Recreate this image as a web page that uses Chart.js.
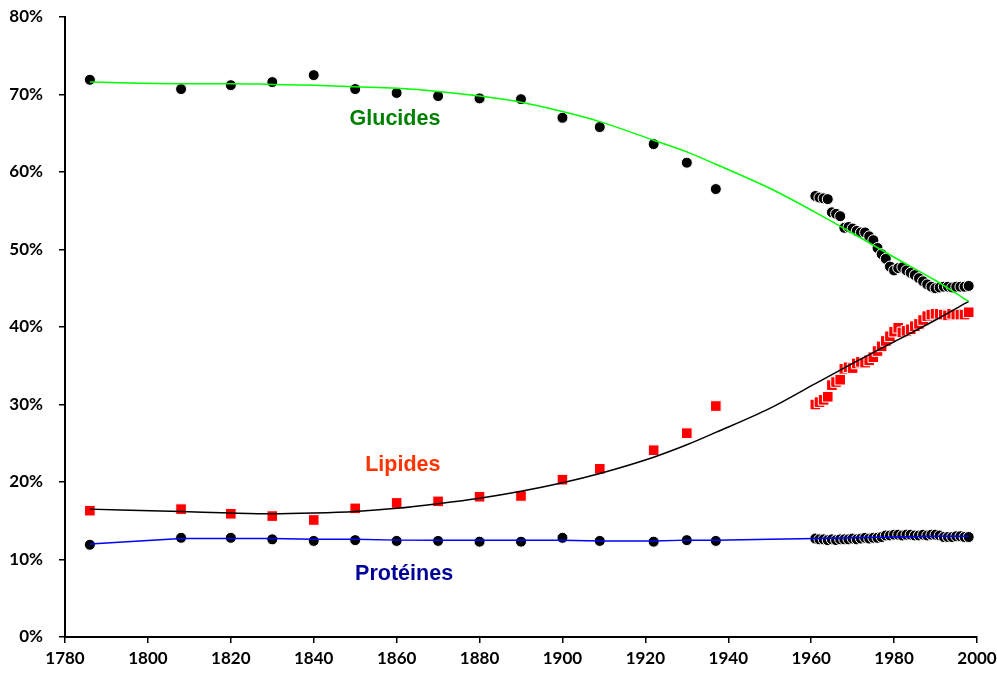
<!DOCTYPE html>
<html>
<head>
<meta charset="utf-8">
<script src="https://cdn.jsdelivr.net/npm/chart.js@4.4.1/dist/chart.umd.min.js"></script>
<style>
html,body{margin:0;padding:0;background:#fff;}
#wrap{width:997px;height:677px;}
</style>
</head>
<body>
<div id="wrap"><canvas id="c" width="997" height="677"></canvas></div>
<script>
// ---- Data ----
const years = [1786,1808,1820,1830,1840,1850,1860,1870,1880,1890,1900,1909,1922,1930,1937,
  1961,1962,1963,1964,1965,1966,1967,1968,1969,1970,1971,1972,1973,1974,1975,1976,1977,1978,1979,
  1980,1981,1982,1983,1984,1985,1986,1987,1988,1989,1990,1991,1992,1993,1994,1995,1996,1997,1998];

const glucides = [71.9,70.7,71.2,71.6,72.5,70.7,70.2,69.8,69.5,69.4,67.0,65.8,63.6,61.2,57.8,
  56.9,56.7,56.6,56.5,54.8,54.6,54.3,52.8,52.9,52.7,52.4,52.2,52.2,51.7,51.2,50.2,49.4,48.8,47.8,
  47.3,47.6,47.7,47.3,47.0,46.7,46.3,45.9,45.5,45.2,45.0,45.1,45.2,45.2,45.1,45.2,45.2,45.2,45.3];

const lipides = [16.3,16.5,15.9,15.6,15.1,16.6,17.3,17.5,18.1,18.2,20.3,21.7,24.1,26.3,29.8,
  30.0,30.3,30.6,31.0,32.5,32.9,33.2,34.6,34.8,34.7,35.3,35.5,35.4,35.7,36.1,36.9,37.5,38.2,38.8,
  39.4,39.9,39.3,39.5,39.7,40.1,40.4,40.9,41.4,41.6,41.7,41.7,41.6,41.5,41.7,41.6,41.6,41.6,41.9];

const proteines = [11.9,12.8,12.8,12.6,12.4,12.5,12.4,12.4,12.3,12.3,12.8,12.4,12.3,12.5,12.4,
  12.7,12.6,12.6,12.5,12.6,12.5,12.6,12.6,12.6,12.7,12.6,12.7,12.8,12.7,12.8,12.8,12.9,13.1,13.1,
  13.2,13.2,13.1,13.2,13.2,13.1,13.1,13.2,13.1,13.2,13.2,13.1,12.9,12.9,12.9,13.0,13.0,12.9,12.9];

// Trend curves
const trendYears = [1786,1808,1820,1830,1840,1850,1860,1870,1880,1890,1900,1909,1922,1930,1937,1950,1961,1970,1980,1990,1998];
const trendGlucides = [71.6,71.4,71.4,71.3,71.2,71.0,70.8,70.4,69.8,69.0,67.8,66.5,64.1,62.6,61.0,57.9,54.8,52.1,49.0,46.0,43.3];
const trendLipides = [16.5,16.2,16.0,15.9,16.0,16.2,16.6,17.2,17.9,18.8,19.9,21.1,23.2,24.8,26.4,29.5,32.7,35.3,38.1,40.9,43.3];
const trendProteines = [12.0,12.7,12.7,12.7,12.6,12.6,12.5,12.5,12.5,12.5,12.5,12.4,12.4,12.5,12.5,12.6,12.7,12.8,12.9,13.0,13.0];

const xTicks = [1780,1800,1820,1840,1860,1880,1900,1920,1940,1960,1980,2000];
const yTicks = [0,10,20,30,40,50,60,70,80];

const labels = [
  {text:'Glucides', x:1859.6, y:66.8, color:'#008000'},
  {text:'Lipides', x:1861.5, y:22.2, color:'#FF3300'},
  {text:'Protéines', x:1861.8, y:8.1, color:'#000099'}
];

const pts = (ys) => years.map((x,i)=>({x:x,y:ys[i]}));
const tpts = (ys) => trendYears.map((x,i)=>({x:x,y:ys[i]}));

const textPlugin = {
  id:'seriesText',
  afterDatasetsDraw(chart){
    const ctx = chart.ctx, xs = chart.scales.x, ys = chart.scales.y;
    ctx.save();
    ctx.font = 'bold 21.5px "Liberation Sans", Arial, sans-serif';
    ctx.textAlign = 'center';
    ctx.textBaseline = 'middle';
    labels.forEach(l=>{
      ctx.fillStyle = l.color;
      ctx.fillText(l.text, xs.getPixelForValue(l.x), ys.getPixelForValue(l.y));
    });
    ctx.restore();
  }
};

const tickFont = {family:'Lato, "Open Sans", sans-serif', size:17, weight:'bold'};

new Chart(document.getElementById('c'), {
  type:'scatter',
  data:{
    datasets:[
      {label:'tg', data:tpts(trendGlucides), showLine:true, borderColor:'#00FF00', borderWidth:1.5, pointRadius:0, cubicInterpolationMode:'monotone', order:0},
      {label:'tl', data:tpts(trendLipides), showLine:true, borderColor:'#000000', borderWidth:1.5, pointRadius:0, cubicInterpolationMode:'monotone', order:0},
      {label:'tp', data:tpts(trendProteines), showLine:true, borderColor:'#0000FF', borderWidth:1.5, pointRadius:0, tension:0, order:0},
      {label:'Glucides', data:pts(glucides), pointStyle:'circle', pointRadius:5.5, backgroundColor:'#000', borderColor:'#fff', borderWidth:1, order:1},
      {label:'Lipides', data:pts(lipides), pointStyle:'rect', pointRadius:7.5, backgroundColor:'#FF0000', borderColor:'#fff', borderWidth:1, order:1},
      {label:'Protéines', data:pts(proteines), pointStyle:'circle', pointRadius:5.5, backgroundColor:'#000', borderColor:'#fff', borderWidth:1, order:1}
    ]
  },
  options:{
    responsive:false,
    devicePixelRatio:1,
    animation:false,
    layout:{padding:{top:17,right:20,left:0,bottom:0}},
    plugins:{legend:{display:false}, tooltip:{enabled:false}},
    scales:{
      x:{
        type:'linear', min:1780, max:2000,
        afterBuildTicks(s){ s.ticks = xTicks.map(v=>({value:v})); },
        afterFit(s){ s.height = 40; s.paddingLeft = 0; s.paddingRight = 0; },
        ticks:{color:'#000', font:tickFont, padding:5, maxRotation:0, callback:v=>String(v)},
        grid:{display:true, drawOnChartArea:false, drawTicks:true, tickLength:6, color:'#000', lineWidth:1.5},
        border:{display:true, color:'#000', width:2}
      },
      y:{
        type:'linear', min:0, max:80,
        afterBuildTicks(s){ s.ticks = yTicks.map(v=>({value:v})); },
        afterFit(s){ s.width = 65; s.paddingTop = 0; s.paddingBottom = 0; },
        ticks:{color:'#000', font:tickFont, padding:16, callback:v=>v+'%'},
        grid:{display:true, drawOnChartArea:false, drawTicks:true, tickLength:6, color:'#000', lineWidth:1.5},
        border:{display:true, color:'#000', width:2}
      }
    }
  },
  plugins:[textPlugin]
});
</script>
</body>
</html>
